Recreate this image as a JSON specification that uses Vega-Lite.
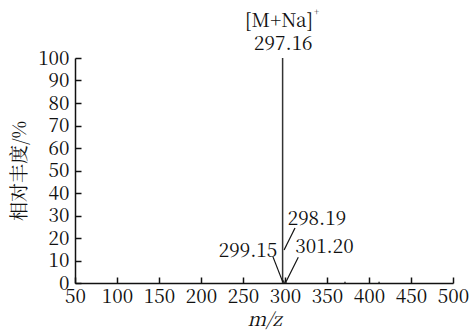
{
  "$schema": "https://vega.github.io/schema/vega-lite/v6.json",
  "width": 378,
  "height": 225,
  "autosize": {"type": "none"},
  "padding": {"left": 75, "top": 58, "right": 19, "bottom": 47},
  "background": "white",
  "config": {
    "view": {"stroke": null},
    "axis": {
      "domainColor": "#111111",
      "domainWidth": 1.5,
      "tickColor": "#111111",
      "tickWidth": 1.5,
      "tickSize": -6,
      "grid": false,
      "labelOverlap": false,
      "labelFlush": false,
      "labelFont": "Noto Serif CJK SC",
      "labelFontSize": 19,
      "labelColor": "#111111",
      "titleColor": "#111111"
    }
  },
  "encoding": {
    "x": {
      "field": "mz", "type": "quantitative",
      "scale": {"domain": [50, 500], "nice": false, "zero": false},
      "axis": {
        "values": [50, 100, 150, 200, 250, 300, 350, 400, 450, 500],
        "labelOverlap": false,
        "labelFlush": false,
        "labelPadding": 10,
        "title": "m/z",
        "titleFont": "Noto Serif CJK SC",
        "titleFontStyle": "italic",
        "titleFontWeight": "normal",
        "titleFontSize": 19,
        "titlePadding": 4
      }
    },
    "y": {
      "field": "pct", "type": "quantitative",
      "scale": {"domain": [0, 100], "nice": false},
      "axis": {
        "values": [0, 10, 20, 30, 40, 50, 60, 70, 80, 90, 100],
        "labelOverlap": false,
        "labelFlush": false,
        "labelPadding": 12,
        "title": "相对丰度/%",
        "titleFont": "Noto Serif CJK SC",
        "titleFontWeight": "normal",
        "titleFontSize": 19,
        "titlePadding": 8
      }
    }
  },
  "layer": [
    {
      "data": {"values": [
        {"mz": 297.16, "pct": 100},
        {"mz": 298.19, "pct": 1.2},
        {"mz": 299.15, "pct": 0.6},
        {"mz": 301.2, "pct": 0.5},
        {"mz": 371.4, "pct": 0.6},
        {"mz": 412.0, "pct": 0.6}
      ]},
      "mark": {"type": "rule", "color": "#333333", "strokeWidth": 1.5},
      "encoding": {
        "y2": {"datum": 0}
      }
    },
    {
      "data": {"values": [
        {"mz": 285.7, "pct": 11.6, "mz2": 297.4, "pct2": 0.4},
        {"mz": 311.9, "pct": 24.4, "mz2": 298.9, "pct2": 14.7},
        {"mz": 315.8, "pct": 11.4, "mz2": 301.2, "pct2": 0.6}
      ]},
      "mark": {"type": "rule", "color": "#111111", "strokeWidth": 1.2},
      "encoding": {
        "x2": {"field": "mz2"},
        "y2": {"field": "pct2"}
      }
    },
    {
      "data": {"values": [
        {"mz": 256, "pct": 11.6, "label": "299.15"},
        {"mz": 338, "pct": 25.8, "label": "298.19"},
        {"mz": 347, "pct": 13.2, "label": "301.20"},
        {"mz": 298, "pct": 103.6, "label": "297.16"},
        {"mz": 293, "pct": 113.8, "label": "[M+Na]"}
      ]},
      "mark": {"type": "text", "font": "Noto Serif CJK SC", "fontSize": 19, "color": "#111111", "align": "center", "baseline": "alphabetic"},
      "encoding": {
        "text": {"field": "label"}
      }
    },
    {
      "data": {"values": [
        {"mz": 337.5, "pct": 119, "label": "+"}
      ]},
      "mark": {"type": "text", "font": "Noto Serif CJK SC", "fontSize": 9, "color": "#111111", "align": "center", "baseline": "alphabetic"},
      "encoding": {
        "text": {"field": "label"}
      }
    }
  ]
}
